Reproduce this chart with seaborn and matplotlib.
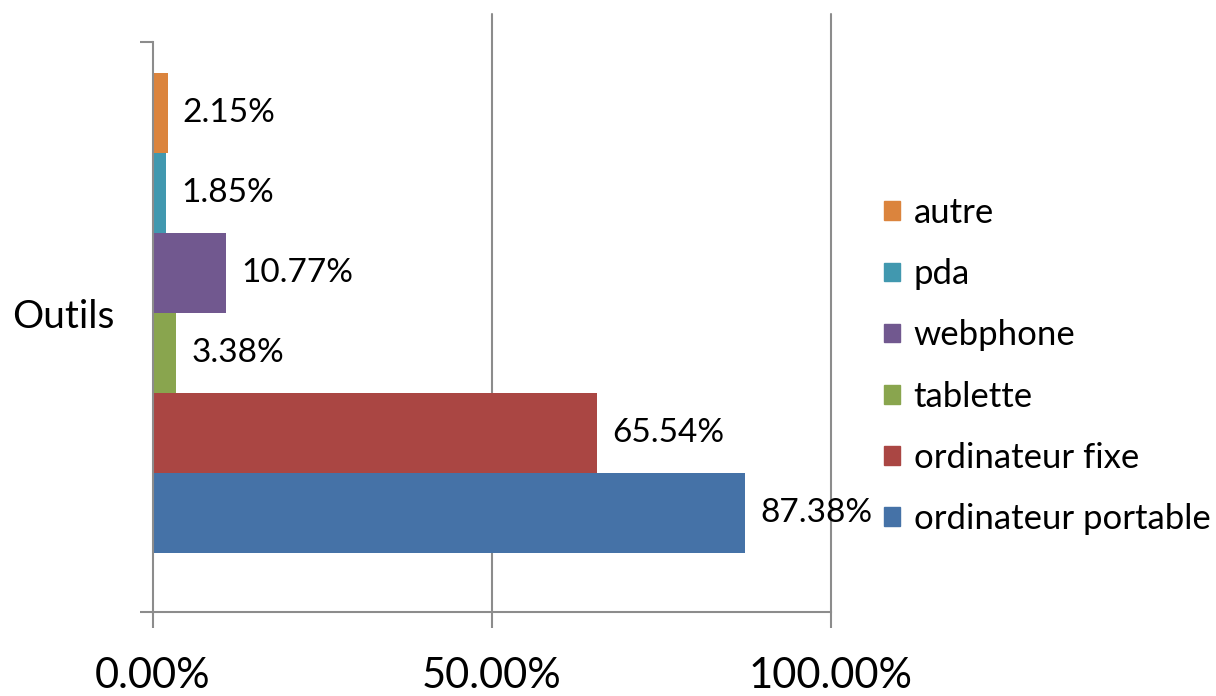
import matplotlib
matplotlib.use("Agg")
import matplotlib.pyplot as plt
import matplotlib.ticker as mticker
import seaborn as sns
import pandas as pd

categories = ["Outils"]
series = ["autre", "pda", "webphone", "tablette", "ordinateur fixe", "ordinateur portable"]
values = [2.15, 1.85, 10.77, 3.38, 65.54, 87.38]
colors = ["#DB843D", "#4198AF", "#71588F", "#89A54E", "#AA4643", "#4572A7"]
x_ticks = [0, 50, 100]

sns.set_theme(style="white")
plt.rcParams["font.family"] = ["Lato", "DejaVu Sans"]
plt.rcParams["text.color"] = "black"
plt.rcParams["xtick.labelcolor"] = "black"
plt.rcParams["ytick.labelcolor"] = "black"

df = pd.DataFrame({"cat": categories * len(series), "serie": series, "val": values})

fig = plt.figure(figsize=(12.16, 6.96), dpi=100)
ax = fig.add_axes([153 / 1216, 1 - 612 / 696, (831 - 153) / 1216, 570 / 696])

sns.barplot(data=df, y="cat", x="val", hue="serie", hue_order=series,
            palette=colors, orient="h", width=0.8, saturation=1,
            ax=ax, legend=False, linewidth=0)

ax.set_xlim(0, 100)
ax.set_ylim(0.4 + 59 / 600, -0.4 - 31 / 600)
ax.set_xlabel("")
ax.set_ylabel("")

grey = "#8C8C8C"
for s in ["top", "right"]:
    ax.spines[s].set_visible(False)
for s in ["left", "bottom"]:
    ax.spines[s].set_color(grey)
    ax.spines[s].set_linewidth(1.5)

ax.set_xticks(x_ticks)
ax.xaxis.set_major_formatter(mticker.FuncFormatter(lambda v, p: f"{v:.2f}%"))
ax.tick_params(axis="x", length=11.5, width=1.5, color=grey, direction="out",
               labelsize=30, pad=21, bottom=True, labelcolor="black")
ax.tick_params(axis="y", length=0, labelsize=28, pad=28, labelcolor="black")
ax.set_yticks(ax.get_yticks(), minor=False)
ax.yaxis.set_minor_locator(mticker.FixedLocator(list(ax.get_ylim())))
ax.tick_params(axis="y", which="minor", length=9.5, width=1.5, color=grey, left=True)

for xv in x_ticks[1:]:
    ax.axvline(xv, ymin=0, ymax=1 + 28 / 570, color=grey, lw=1.5, clip_on=False, zorder=0)

for cont in ax.containers:
    ax.bar_label(cont, fmt="%.2f%%", padding=11, fontsize=24, color="black")

handles = [plt.Rectangle((0, 0), 1, 1, color=c) for c in colors]
fig.legend(handles, series, loc="center left", bbox_to_anchor=(884 / 1216, 1 - 366 / 696),
           frameon=False, fontsize=25, handlelength=0.45, handleheight=0.45,
           handletextpad=0.4, labelspacing=0.84, borderaxespad=0, borderpad=0,
           labelcolor="black")

fig.savefig("out.png", dpi=100)
